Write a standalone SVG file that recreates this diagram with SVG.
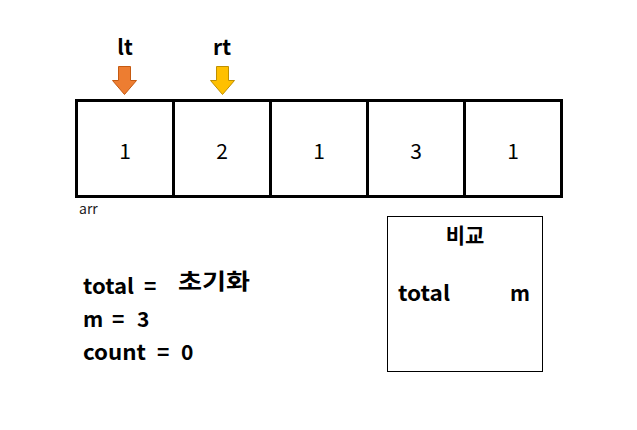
<svg xmlns="http://www.w3.org/2000/svg" width="637" height="430" viewBox="0 0 637 430">
<style>
.cell{fill:#fff;stroke:#000;stroke-width:3}
.num{font-family:"Noto Sans CJK KR","Noto Sans",sans-serif;font-size:21px;fill:#000;text-anchor:middle}
.b{font-family:"Noto Sans CJK KR","Noto Sans",sans-serif;font-size:21px;font-weight:bold;fill:#000}
.lbl{font-family:"Noto Sans CJK KR","Noto Sans",sans-serif;font-size:21px;font-weight:bold;fill:#000;text-anchor:middle}
</style>
<rect width="637" height="430" fill="#fff"/>
<g id="ptr-lt">
<text class="lbl" x="125" y="55">lt</text>
<path d="M118.5,66.5 H130.5 V80.5 H136.5 L124.5,94.5 L112.5,80.5 H118.5 Z" fill="#ED7D31" stroke="#C55A11" stroke-width="1"/>
</g>
<g id="ptr-rt">
<text class="lbl" x="222" y="55">rt</text>
<path d="M216.5,66.5 H228.5 V80.5 H234.5 L222.5,94.5 L210.5,80.5 H216.5 Z" fill="#FFC000" stroke="#BF9000" stroke-width="1"/>
</g>
<g id="arr">
<rect class="cell" x="76.5" y="100.5" width="97" height="96"/>
<rect class="cell" x="173.5" y="100.5" width="97" height="96"/>
<rect class="cell" x="270.5" y="100.5" width="97" height="96"/>
<rect class="cell" x="367.5" y="100.5" width="97" height="96"/>
<rect class="cell" x="464.5" y="100.5" width="97" height="96"/>
<text class="num" x="125" y="159">1</text>
<text class="num" x="222" y="159">2</text>
<text class="num" x="319" y="159">1</text>
<text class="num" x="416" y="159">3</text>
<text class="num" x="513" y="159">1</text>
<text x="79" y="214" font-family="Noto Sans CJK KR,Noto Sans,sans-serif" font-size="14" fill="#222">arr</text>
</g>
<g id="vars">
<text class="b" y="294"><tspan x="83" textLength="51" lengthAdjust="spacingAndGlyphs">total</tspan><tspan x="144">=</tspan></text>
<text x="178" y="289" font-family="Noto Sans CJK KR,sans-serif" font-size="22" font-weight="bold" fill="#000" textLength="72" lengthAdjust="spacingAndGlyphs">초기화</text>
<text class="b" y="327"><tspan x="83">m</tspan><tspan x="112">=</tspan><tspan x="137">3</tspan></text>
<text class="b" y="360"><tspan x="83" textLength="63" lengthAdjust="spacingAndGlyphs">count</tspan><tspan x="157">=</tspan><tspan x="181">0</tspan></text>
</g>
<g id="compare">
<rect x="387.5" y="216.5" width="155" height="155" fill="#fff" stroke="#000" stroke-width="1"/>
<text class="lbl" x="465" y="243" font-size="22">비교</text>
<text class="b" x="398" y="301" textLength="52" lengthAdjust="spacingAndGlyphs">total</text>
<text class="b" x="510" y="301" textLength="20" lengthAdjust="spacingAndGlyphs">m</text>
</g>
</svg>
